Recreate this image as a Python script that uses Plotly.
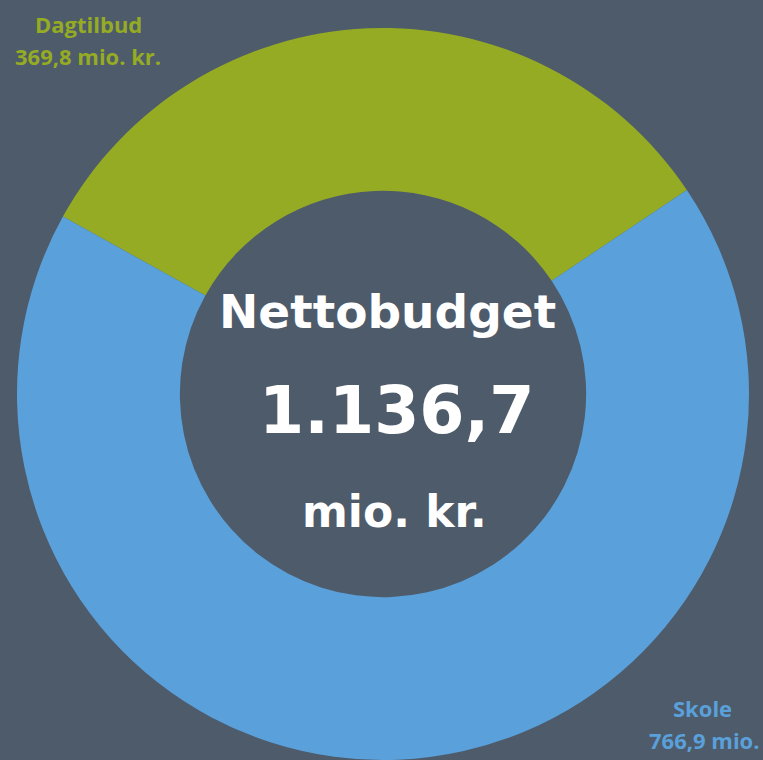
import plotly.graph_objects as go

categories = ["Dagtilbud", "Skole"]
values = [369.8, 766.9]
value_labels = ["369,8 mio. kr.", "766,9 mio."]
total_label = "1.136,7"
colors = ["#95AB24", "#5AA0DA"]
bg = "#4E5B6A"

W, H = 763, 760
cx, cy, R = 383, 394, 366

fig = go.Figure(go.Pie(
    labels=categories, values=values, sort=False, direction="clockwise",
    rotation=-61, hole=0.555, marker=dict(colors=colors, line=dict(width=0)),
    textinfo="none", hoverinfo="label+value", showlegend=False,
    domain=dict(x=[(cx - R) / W, (cx + R) / W],
                y=[max(0, (H - cy - R) / H), min(1, (H - cy + R) / H)]),
))

ann = []
def add(text, x, y, size, color, family, xanchor="center"):
    ann.append(dict(text=text, x=x / W, y=1 - y / H, xref="paper", yref="paper",
                    showarrow=False, xanchor=xanchor, yanchor="middle",
                    font=dict(size=size, color=color, family=family)))

lab_font = "Open Sans"
add("<b>" + categories[0] + "</b>", 88, 24, 22, colors[0], lab_font)
add("<b>" + value_labels[0] + "</b>", 88, 56, 22, colors[0], lab_font)
add("<b>" + categories[1] + "</b>", 702, 708, 22, colors[1], lab_font)
add("<b>" + value_labels[1] + "</b>", 762, 740, 22, colors[1], lab_font, xanchor="right")

cf = "DejaVu Sans"
add("<b>Nettobudget</b>", 387, 312, 47, "white", cf)
add("<b>" + total_label + "</b>", 397, 411, 65, "white", cf)
add("<b>mio. kr.</b>", 394, 511, 44, "white", cf)

fig.update_layout(width=W, height=H, margin=dict(l=0, r=0, t=0, b=0),
                  paper_bgcolor=bg, plot_bgcolor=bg, annotations=ann)
fig.write_html("out.html", config={"displayModeBar": False},
               post_script="document.body.style.margin='0';document.body.style.overflow='hidden';")
